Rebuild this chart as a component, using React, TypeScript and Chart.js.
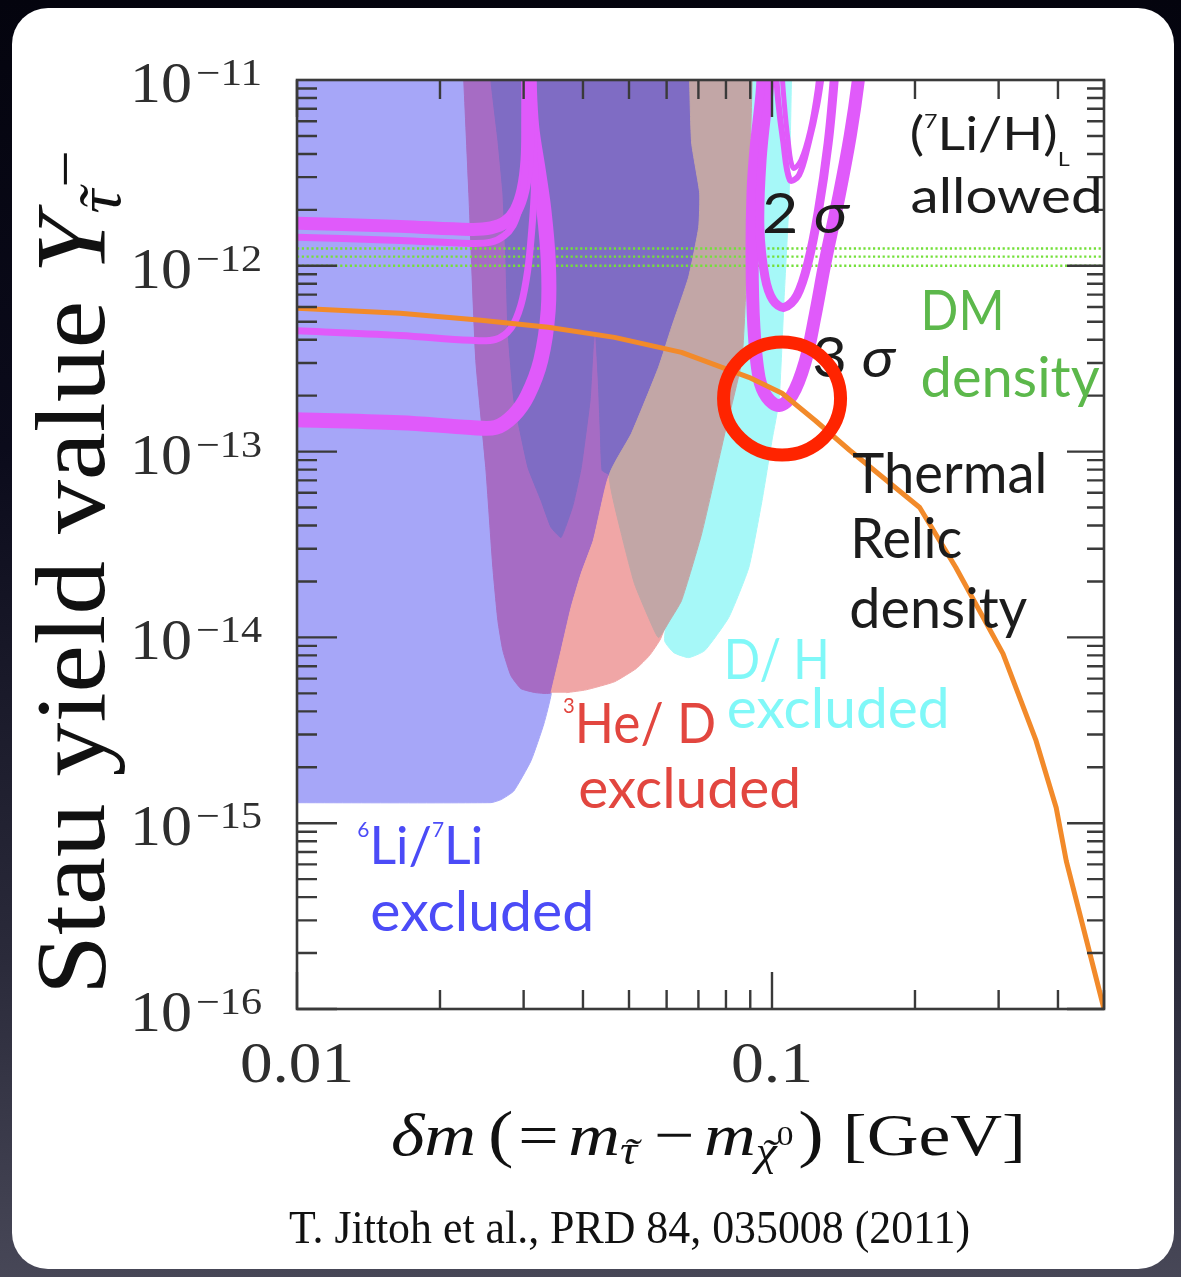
import { useEffect, useRef } from "react";
import { Chart, registerables } from "chart.js";

Chart.register(...registerables);

type Pt = [number, number];

// ---------- axes ----------
const X_MIN = 0.01;
const X_MAX = 0.5;
const Y_MIN = 1e-16;
const Y_MAX = 1e-11;

const xTickValues = [0.01, 0.1];
const xTickLabels = ["0.01", "0.1"];
const yTickValues = [1e-11, 1e-12, 1e-13, 1e-14, 1e-15, 1e-16];
const yTickExponents = ["−11", "−12", "−13", "−14", "−15", "−16"];

// ---------- excluded regions (δm [GeV], Y) ----------
const li6Region: Pt[] = [
  [0.008, 3e-11], [0.03, 3e-11], [0.032, 1e-13], [0.0345, 8e-15],
  [0.0343, 4.98e-15], [0.0331, 3.43e-15], [0.0311, 2.17e-15], [0.0286, 1.49e-15],
  [0.0269, 1.34e-15], [0.0256, 1.29e-15], [0.008, 1.29e-15],
];

const overlapLeftEdge: Pt[] = [
  [0.0223, 1.3e-11], [0.02244, 1e-11], [0.023, 2.46e-12], [0.02379, 3.1e-13],
  [0.02497, 8.2e-14], [0.02584, 2.38e-14], [0.02648, 1.23e-14], [0.02713, 8.49e-15],
  [0.02821, 6.22e-15], [0.02961, 5.3e-15], [0.03186, 5.04e-15],
];

const he3LeftEdge: Pt[] = [
  [0.03426, 5.04e-15], [0.03597, 8.49e-15], [0.03776, 1.45e-14], [0.03966, 2.21e-14],
  [0.04205, 3.32e-14], [0.04371, 5.13e-14], [0.04544, 7.45e-14],
];

const dhLeftUpper: Pt[] = [
  [0.0671, 1.3e-11], [0.06707, 1e-11], [0.06774, 4.58e-12], [0.07043, 2.46e-12],
  [0.07009, 1.61e-12], [0.06675, 8.68e-13], [0.06146, 4.67e-13], [0.05769, 2.84e-13],
  [0.05058, 1.25e-13], [0.04544, 7.45e-14],
];

const dhLeftLower: Pt[] = [
  [0.04818, 3.62e-14], [0.05133, 1.95e-14], [0.05495, 1.28e-14], [0.05769, 9.98e-15],
];

const he3RightEdge: Pt[] = [
  [0.0609, 1.23e-14], [0.06451, 1.58e-14], [0.07112, 3.62e-14], [0.07953, 1.25e-13],
  [0.0864, 3.1e-13], [0.0886, 1.07e-12], [0.0899, 3.71e-12], [0.0908, 1e-11], [0.0908, 1.3e-11],
];

const coreOutline: Pt[] = [
  [0.0256, 1.3e-11], [0.02559, 1e-11], [0.02648, 4.75e-12], [0.02713, 2.46e-12],
  [0.02753, 1.07e-12], [0.0278, 4.5e-13], [0.02862, 1.89e-13], [0.03064, 8.2e-14],
  [0.03264, 5.46e-14], [0.03426, 3.91e-14], [0.03597, 3.45e-14], [0.0381, 5.13e-14],
  [0.03966, 8.2e-14], [0.0414, 1.89e-13], [0.04205, 3.73e-13], [0.04246, 4.61e-13],
  [0.04308, 2.42e-13], [0.0435, 1.3e-13], [0.0439, 7.92e-14], [0.0459, 7.45e-14],
];

const he3Inner: Pt[] = [[0.0494, 8.1e-14], [0.0585, 4.26e-14], [0.062, 1.58e-14]];

const he3Bottom: Pt[] = [
  [0.0583, 9.85e-15], [0.0552, 7.98e-15], [0.0518, 6.8e-15], [0.0466, 5.77e-15],
  [0.0406, 5.22e-15], [0.0369, 5.04e-15],
];

const dhRegion: Pt[] = [
  [0.0886, 1.3e-11], [0.1102, 1.3e-11], [0.1099, 1e-11], [0.1086, 2.26e-12],
  [0.106, 6.53e-13], [0.1035, 1.89e-13], [0.1, 1.15e-13], [0.0953, 5.46e-14],
  [0.0894, 2.38e-14], [0.0811, 1.28e-14], [0.0722, 8.49e-15], [0.06675, 7.78e-15],
  [0.0621, 8.28e-15], [0.0594, 9.61e-15], [0.0615, 2.02e-14], [0.0765, 1.89e-13],
];

// ---------- (7Li/H) allowed contours ----------
const lowUpperA: Pt[] = [
  [0.0094, 1.7e-12], [0.0165, 1.63e-12], [0.0232, 1.57e-12], [0.0256, 1.6e-12],
  [0.0275, 1.72e-12], [0.0289, 1.99e-12], [0.0299, 2.55e-12], [0.0305, 3.71e-12],
  [0.0306, 6.09e-12], [0.0306, 1.3e-11],
];
const lowUpperB: Pt[] = [
  [0.0094, 1.43e-12], [0.0165, 1.37e-12], [0.0232, 1.32e-12], [0.0256, 1.34e-12],
  [0.0273, 1.45e-12], [0.0285, 1.65e-12], [0.0293, 1.99e-12], [0.0299, 2.55e-12],
  [0.0303, 3.71e-12],
];
const low2Sigma: Pt[] = [
  [0.0094, 4.5e-13], [0.0165, 4.22e-13], [0.0232, 3.97e-13], [0.0262, 4.02e-13],
  [0.0282, 4.61e-13], [0.0296, 6.13e-13], [0.0306, 9.47e-13], [0.0312, 1.55e-12],
  [0.0316, 2.55e-12], [0.0316, 4.19e-12], [0.0314, 7.8e-12], [0.0314, 1.3e-11],
];
const low3Sigma: Pt[] = [
  [0.0094, 1.49e-13], [0.0165, 1.43e-13], [0.0232, 1.35e-13], [0.0262, 1.35e-13],
  [0.0286, 1.57e-13], [0.0306, 2.01e-13], [0.0326, 3.1e-13], [0.0338, 5.77e-13],
  [0.0338, 1.07e-12], [0.0331, 1.99e-12], [0.0322, 3.27e-12], [0.0312, 5.58e-12],
  [0.0308, 1e-11], [0.0308, 1.3e-11],
];
const high3Sigma: Pt[] = [
  [0.0962, 1.3e-11], [0.0953, 8.51e-12], [0.0925, 4.19e-12], [0.0912, 2.46e-12],
  [0.0908, 1.07e-12], [0.0916, 4.67e-13], [0.0939, 2.51e-13], [0.0976, 1.96e-13],
  [0.1035, 1.77e-13], [0.1102, 2.01e-13], [0.1174, 3.03e-13], [0.1233, 5.42e-13],
  [0.1294, 1.05e-12], [0.1385, 2.4e-12], [0.1462, 5.05e-12], [0.152, 1e-11], [0.153, 1.3e-11],
];
const high2Sigma: Pt[] = [
  [0.1, 1.3e-11], [0.0985, 8.5e-12], [0.0953, 3.71e-12], [0.0943, 1.61e-12],
  [0.0967, 8.68e-13], [0.1005, 6.53e-13], [0.106, 5.98e-13], [0.1129, 6.94e-13],
  [0.1192, 1.05e-12], [0.1251, 1.94e-12], [0.1313, 4.58e-12], [0.1352, 1e-11], [0.1359, 1.3e-11],
];
const highInnerA: Pt[] = [
  [0.1015, 1.3e-11], [0.103, 7.8e-12], [0.1055, 4.75e-12], [0.1091, 2.89e-12],
  [0.114, 3.08e-12], [0.1192, 4.47e-12], [0.1245, 7.33e-12], [0.1288, 1.3e-11],
];
const highInnerB: Pt[] = [
  [0.1045, 1.3e-11], [0.106, 7.8e-12], [0.1081, 4.75e-12], [0.1108, 3.36e-12],
  [0.1151, 3.71e-12], [0.1203, 5.38e-12], [0.1245, 8.83e-12], [0.1264, 1.3e-11],
];

// ---------- thermal relic density & DM density ----------
const thermalRelic: Pt[] = [
  [0.01, 5.91e-13], [0.0165, 5.55e-13], [0.0244, 5.09e-13], [0.0338, 4.67e-13],
  [0.0466, 4.12e-13], [0.0645, 3.42e-13], [0.0894, 2.51e-13], [0.105, 2.06e-13],
  [0.1233, 1.47e-13], [0.1455, 1.02e-13], [0.2046, 5.0e-14], [0.2438, 2.38e-14],
  [0.3064, 8.18e-15], [0.3597, 2.78e-15], [0.3966, 1.21e-15], [0.4164, 6.27e-16], [0.5, 1e-16],
];
const dmDensityLevels = [1.24e-12, 1.12e-12, 1.0e-12];

// highlighted crossing point
const highlightCenter: Pt = [0.105, 1.93e-13];

// ---------- styling ----------
const SERIF = "'Liberation Serif', 'Times New Roman', serif";
const SANS = "Lato, 'Open Sans', 'Noto Sans', sans-serif";
const AXIS_COLOR = "#3a3a3a";
const MAGENTA = "#e05afa";

type Run = { text: string; font: string; dy?: number; gap?: number; tilde?: boolean };
type Label = { runs: Run[]; at: Pt; width: number; color: string };

const plain = (text: string, size: number, extra: Partial<Run> = {}): Run => ({
  text,
  font: `${size}px ${SANS}`,
  ...extra,
});

const labels: Label[] = [
  {
    runs: [plain("(", 46), plain("7", 20, { dy: -22 }), plain("Li/H)", 46), plain("L", 20, { dy: 16 })],
    at: [0.1949, 4.19e-12], width: 160, color: "#1c1c1c",
  },
  { runs: [plain("allowed", 48)], at: [0.1958, 1.92e-12], width: 192, color: "#1c1c1c" },
  {
    runs: [plain("2", 56, { gap: 14 }), { text: "σ", font: `italic 56px ${SANS}` }],
    at: [0.0953, 1.5e-12], width: 87, color: "#1c1c1c",
  },
  {
    runs: [plain("3", 56, { gap: 14 }), { text: "σ", font: `italic 56px ${SANS}` }],
    at: [0.1215, 2.51e-13], width: 83, color: "#1c1c1c",
  },
  { runs: [plain("DM", 56)], at: [0.2055, 4.5e-13], width: 84, color: "#5cb84b" },
  { runs: [plain("density", 56)], at: [0.2055, 1.96e-13], width: 179, color: "#5cb84b" },
  { runs: [plain("Thermal", 56)], at: [0.1476, 5.95e-14], width: 195, color: "#1c1c1c" },
  { runs: [plain("Relic", 56)], at: [0.1462, 2.66e-14], width: 112, color: "#1c1c1c" },
  { runs: [plain("density", 56)], at: [0.1455, 1.13e-14], width: 178, color: "#1c1c1c" },
  { runs: [plain("D/ H", 56)], at: [0.0791, 6.0e-15], width: 106, color: "#80f8f8" },
  { runs: [plain("excluded", 56)], at: [0.0803, 3.27e-15], width: 223, color: "#80f8f8" },
  {
    runs: [plain("3", 22, { dy: -30 }), plain("He/ D", 56)],
    at: [0.03632, 2.71e-15], width: 153, color: "#e2463f",
  },
  { runs: [plain("excluded", 56)], at: [0.03908, 1.2e-15], width: 223, color: "#e2463f" },
  {
    runs: [plain("6", 21, { dy: -27 }), plain("Li/", 52), plain("7", 21, { dy: -27 }), plain("Li", 52)],
    at: [0.01339, 6.04e-16], width: 126, color: "#4b4bf7",
  },
  { runs: [plain("excluded", 56)], at: [0.01427, 2.63e-16], width: 224, color: "#4b4bf7" },
];

const xTitleRuns: Run[] = [
  { text: "δm", font: `italic 60px ${SERIF}`, gap: 10 },
  { text: "(", font: `64px ${SERIF}`, gap: 4 },
  { text: "=", font: `60px ${SERIF}`, gap: 8 },
  { text: "m", font: `italic 60px ${SERIF}` },
  { text: "τ", font: `italic 40px ${SERIF}`, dy: 9, tilde: true, gap: 14 },
  { text: "−", font: `60px ${SERIF}`, gap: 8 },
  { text: "m", font: `italic 60px ${SERIF}` },
  { text: "χ", font: `italic 40px ${SERIF}`, dy: 10, tilde: true },
  { text: "0", font: `28px ${SERIF}`, dy: -10, gap: 4 },
  { text: ")", font: `64px ${SERIF}`, gap: 16 },
  { text: "[GeV]", font: `60px ${SERIF}` },
];

const yTitleRuns: Run[] = [
  { text: "Stau yield value ", font: `100px ${SERIF}` },
  { text: "Y", font: `italic 100px ${SERIF}` },
  { text: "τ", font: `italic 62px ${SERIF}`, dy: 16, tilde: true, gap: 2 },
  { text: "−", font: `62px ${SERIF}`, dy: -18 },
];

const citation = "T. Jittoh et al., PRD 84, 035008 (2011)";

// ---------- drawing helpers ----------
function drawRuns(
  ctx: CanvasRenderingContext2D,
  runs: Run[],
  x: number,
  y: number,
  width: number | null,
  color: string
) {
  let total = 0;
  for (const r of runs) {
    ctx.font = r.font;
    total += ctx.measureText(r.text).width + (r.gap ?? 0);
  }
  const sx = width ? width / total : 1;
  ctx.save();
  ctx.translate(x, y);
  ctx.scale(sx, 1);
  ctx.fillStyle = color;
  ctx.textAlign = "left";
  ctx.textBaseline = "alphabetic";
  let cx = 0;
  for (const r of runs) {
    ctx.font = r.font;
    const w = ctx.measureText(r.text).width;
    ctx.fillText(r.text, cx, r.dy ?? 0);
    if (r.tilde) {
      ctx.textAlign = "center";
      ctx.fillText("˜", cx + w / 2 + 2, (r.dy ?? 0) + 2);
      ctx.textAlign = "left";
    }
    cx += w + (r.gap ?? 0);
  }
  ctx.restore();
}

const toXY = (pts: Pt[]) => pts.map(([x, y]) => ({ x, y }));

const areaSet = (label: string, pts: Pt[], color: string, tension = 0.15) => ({
  label,
  data: toXY(pts),
  backgroundColor: color,
  borderColor: color,
  borderWidth: 1,
  fill: "shape",
  tension,
  pointRadius: 0,
  clip: 0,
});

const lineSet = (
  label: string,
  pts: Pt[],
  color: string,
  width: number,
  tension = 0.35,
  dash: number[] = []
) => ({
  label,
  data: toXY(pts),
  borderColor: color,
  backgroundColor: color,
  borderWidth: width,
  borderDash: dash,
  borderCapStyle: "butt",
  borderJoinStyle: "round",
  fill: false,
  tension,
  pointRadius: 0,
  clip: 0,
});

function buildDatasets() {
  const rev = (a: Pt[]) => [...a].reverse();
  // listed bottom layer first
  const layers: any[] = [
    areaSet("6Li/7Li excluded", li6Region, "#a6a6f8"),
    areaSet("overlap", [...overlapLeftEdge, ...he3LeftEdge, ...rev(dhLeftUpper)], "#a66cc4"),
    areaSet("core", [...coreOutline, ...rev(dhLeftUpper)], "#7f6cc4", 0.12),
    areaSet("3He/D excluded", [...he3LeftEdge, ...he3Inner, ...he3Bottom], "#f0a6a6"),
    areaSet("D/H excluded", dhRegion, "#a6f8f8"),
    areaSet("3He/D and D/H", [...dhLeftUpper, ...dhLeftLower, ...he3RightEdge], "#c2a6a6"),
    ...dmDensityLevels.map((v, i) =>
      lineSet(`DM density ${i}`, [[X_MIN, v], [X_MAX, v]], "#74e03a", 2.4, 0, [2.2, 2.6])
    ),
    lineSet("low 3σ", low3Sigma, MAGENTA, 15),
    lineSet("low 2σ", low2Sigma, MAGENTA, 7),
    lineSet("low upper a", lowUpperA, MAGENTA, 13),
    lineSet("low upper b", lowUpperB, MAGENTA, 7),
    lineSet("high 3σ", high3Sigma, MAGENTA, 13),
    lineSet("high 2σ", high2Sigma, MAGENTA, 9),
    lineSet("high inner a", highInnerA, MAGENTA, 6),
    lineSet("high inner b", highInnerB, MAGENTA, 5),
    lineSet("thermal relic", thermalRelic, "#f28a2a", 5, 0),
  ];
  const n = layers.length;
  return layers.map((d, i) => ({ ...d, order: n - i }));
}

const overlayPlugin = {
  id: "overlay",
  afterDraw(chart: any) {
    const ctx: CanvasRenderingContext2D = chart.ctx;
    const { left, right, top, bottom } = chart.chartArea;
    const xs = chart.scales.x;
    const ys = chart.scales.y;

    ctx.save();
    // inward ticks on all four sides
    ctx.strokeStyle = AXIS_COLOR;
    ctx.lineWidth = 2.4;
    ctx.beginPath();
    for (let e = -2; e <= -1; e++) {
      for (let m = 1; m <= 9; m++) {
        const v = m * Math.pow(10, e);
        if (v < X_MIN * 0.999 || v > X_MAX * 1.001) continue;
        const p = xs.getPixelForValue(v);
        const len = m === 1 ? 37 : 19;
        ctx.moveTo(p, bottom);
        ctx.lineTo(p, bottom - len);
        ctx.moveTo(p, top);
        ctx.lineTo(p, top + len);
      }
    }
    for (let e = -16; e <= -12; e++) {
      for (let m = 1; m <= 9; m++) {
        const v = m * Math.pow(10, e);
        const p = ys.getPixelForValue(v);
        ctx.moveTo(left, p);
        ctx.lineTo(left + (m === 1 ? 40 : 20), p);
        ctx.moveTo(right, p);
        ctx.lineTo(right - (m === 1 ? 37 : 17), p);
      }
    }
    ctx.stroke();
    ctx.lineWidth = 2.6;
    ctx.strokeRect(left, top, right - left, bottom - top);

    // in-plot labels
    for (const l of labels) {
      drawRuns(ctx, l.runs, xs.getPixelForValue(l.at[0]), ys.getPixelForValue(l.at[1]), l.width, l.color);
    }

    // highlighted crossing
    ctx.beginPath();
    ctx.ellipse(
      xs.getPixelForValue(highlightCenter[0]),
      ys.getPixelForValue(highlightCenter[1]),
      58.5,
      56.5,
      0,
      0,
      Math.PI * 2
    );
    ctx.strokeStyle = "#ff2400";
    ctx.lineWidth = 13;
    ctx.stroke();

    // tick labels (10 with a raised exponent)
    const TICK_COLOR = "#2e2e2e";
    yTickValues.forEach((v, i) => {
      const p = ys.getPixelForValue(v);
      drawRuns(ctx, [{ text: yTickExponents[i], font: `37px ${SERIF}` }], 196, p + 5, 66, TICK_COLOR);
      drawRuns(ctx, [{ text: "10", font: `58px ${SERIF}` }], 130, p + 22, 62, TICK_COLOR);
    });
    const xLabelWidths = [114, 82];
    xTickValues.forEach((v, i) => {
      const cx = xs.getPixelForValue(v);
      drawRuns(
        ctx,
        [{ text: xTickLabels[i], font: `58px ${SERIF}` }],
        cx - xLabelWidths[i] / 2,
        bottom + 73,
        xLabelWidths[i],
        TICK_COLOR
      );
    });

    // axis titles and reference
    drawRuns(ctx, xTitleRuns, 391, 1155, 635, "#111");
    ctx.save();
    ctx.translate(104, 995);
    ctx.rotate(-Math.PI / 2);
    drawRuns(ctx, yTitleRuns, 0, 0, 845, "#111");
    ctx.restore();
    drawRuns(ctx, [{ text: citation, font: `46px ${SERIF}` }], 289, 1243, 681, "#111");
    ctx.restore();
  },
};

export default function App() {
  const canvasRef = useRef<HTMLCanvasElement | null>(null);

  useEffect(() => {
    const canvas = canvasRef.current;
    if (!canvas) return;
    const chart = new Chart(canvas, {
      type: "line",
      data: { datasets: buildDatasets() as any },
      options: {
        responsive: false,
        maintainAspectRatio: false,
        animation: false,
        devicePixelRatio: 1,
        events: [],
        layout: { padding: { left: 297, top: 80, right: 77, bottom: 268 } },
        plugins: {
          legend: { display: false },
          tooltip: { enabled: false },
          filler: { propagate: false },
        },
        scales: {
          x: { type: "logarithmic", min: X_MIN, max: X_MAX, display: false },
          y: { type: "logarithmic", min: Y_MIN, max: Y_MAX, display: false },
        },
      } as any,
      plugins: [overlayPlugin],
    });
    return () => chart.destroy();
  }, []);

  return (
    <div
      style={{
        position: "fixed",
        left: 0,
        top: 0,
        width: 1181,
        height: 1277,
        overflow: "hidden",
        background: "linear-gradient(180deg, #04040e 0%, #0b0b1b 35%, #2a2a3a 75%, #474757 100%)",
      }}
    >
      <div
        style={{
          position: "absolute",
          left: 12,
          top: 8,
          width: 1162,
          height: 1261,
          borderRadius: 36,
          background: "#ffffff",
        }}
      />
      <canvas
        ref={canvasRef}
        width={1181}
        height={1277}
        style={{ position: "absolute", left: 0, top: 0, width: 1181, height: 1277 }}
      />
    </div>
  );
}
